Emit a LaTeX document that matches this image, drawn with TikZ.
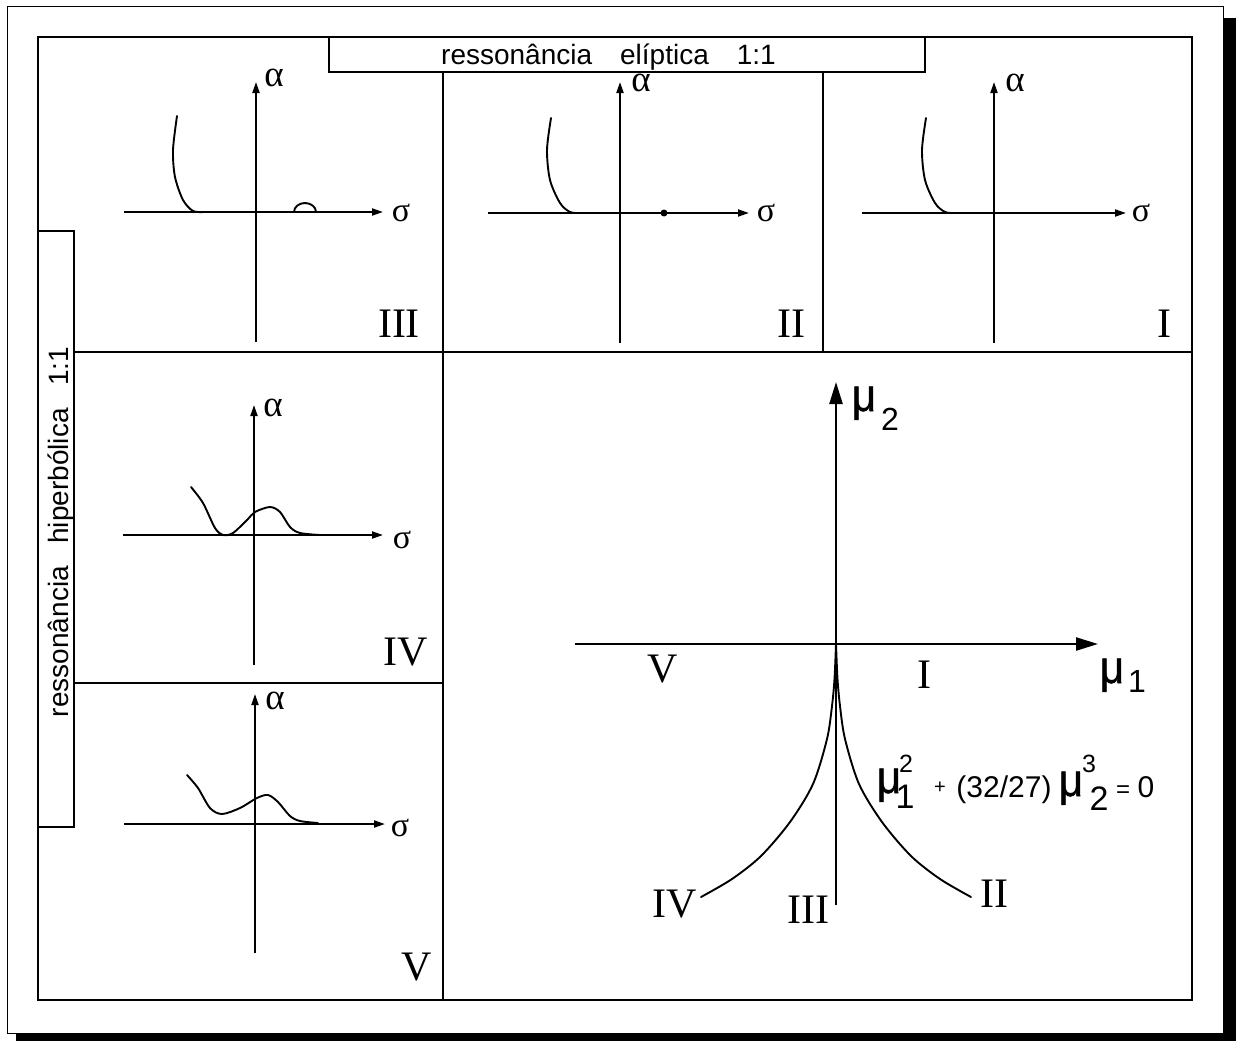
\documentclass[tikz,border=0pt]{standalone}
\usepackage{fontspec}
\setmainfont{Liberation Serif}
\newfontfamily\sansf{Liberation Sans}
\newfontfamily\mufont[FakeBold=1.2]{Liberation Sans}
\usetikzlibrary{arrows.meta}
\newcommand{\mymu}{\scalebox{1}[1.1]{\mufont\fontsize{42}{42}\selectfont μ}}
\begin{document}
\begin{tikzpicture}[x=1pt,y=-1pt,
  ax/.style={line width=2pt,-{Triangle[length=11pt,width=7pt]}},
  bigax/.style={line width=2.4pt,-{Triangle[length=22pt,width=13pt]}},
  crv/.style={line width=1.9pt,line join=round,line cap=round},
  alf/.style={font=\fontsize{37}{37}\selectfont,inner sep=0pt,anchor=base},
  sig/.style={font=\fontsize{34}{34}\selectfont,inner sep=0pt,anchor=base},
  roman/.style={font=\fontsize{42}{42}\selectfont,inner sep=0pt,anchor=base},
  hlbl/.style={font=\sansf\fontsize{28}{28}\selectfont,inner sep=0pt,anchor=base west},
  vlbl/.style={font=\sansf\fontsize{28}{28}\selectfont,inner sep=0pt,anchor=base,rotate=90},
  sub/.style={font=\sansf\fontsize{#1}{#1}\selectfont,inner sep=0pt,anchor=base},
  frm/.style={line width=2.4pt},
  dv/.style={line width=2pt}
]
\useasboundingbox (0,0) rectangle (1236,1041);
% shadow and outer frame
\fill[black] (16,18) rectangle (1236,1041);
\draw[fill=white,line width=1pt] (7,7) rectangle (1223,1033);
% inner frame
\draw[frm] (38,37) rectangle (1192,1000);
% dividers
\draw[dv] (443,72) -- (443,1000);
\draw[dv] (823,72) -- (823,352);
\draw[dv] (74,352) -- (1192,352);
\draw[dv] (74,683) -- (443,683);
% label boxes
\draw[frm,fill=white] (329,37) rectangle (925,72);
\node[hlbl] (toplbl) at (441,65) {ressonância\hspace{1em}elíptica\hspace{1em}1:1};
\draw[frm,fill=white] (38,231) rectangle (74,827);
\node[vlbl] (vlbl) at (68,532) {ressonância\hspace{0.8em}hiperbólica\hspace{0.8em}1:1};

% Panel III
\draw[ax] (256,342) -- (256,82);
\draw[ax] (124,212) -- (383,212);
\draw[crv] plot[smooth] coordinates {(177,116) (173,150) (175,177) (183,200) (193,211) (204,212)};
\draw[crv] (294,212) arc[start angle=180,end angle=360,x radius=11,y radius=9];
\node[alf] (a3) at (274,86) {α};
\node[sig] (s3) at (401,221) {σ};
\node[roman] (n3) at (399,337) {III};

% Panel II
\draw[ax] (620,343) -- (620,82);
\draw[ax] (488,213) -- (749,213);
\draw[crv] plot[smooth] coordinates {(551,118) (547,150) (550,180) (560,203) (570,212) (580,213)};
\fill (664,213) circle[radius=3.5];
\node[alf] (a2) at (641,91) {α};
\node[sig] (s2) at (766,221) {σ};
\node[roman] (n2) at (791,337) {II};

% Panel I
\draw[ax] (994,343) -- (994,82);
\draw[ax] (862,213) -- (1126,213);
\draw[crv] plot[smooth] coordinates {(926,118) (922,150) (925,180) (935,203) (945,212) (955,213)};
\node[alf] (a1) at (1015,92) {α};
\node[sig] (s1) at (1141,221) {σ};
\node[roman] (n1) at (1164,337) {I};

% Panel IV
\draw[ax] (254,665) -- (254,405);
\draw[ax] (123,535) -- (383,535);
\draw[crv] plot[smooth] coordinates {(191,487) (203,503) (215,528) (223,535) (233,533) (247,520) (255,512) (270,507) (280,512) (290,527) (300,533) (320,535)};
\node[alf] (a4) at (273,416) {α};
\node[sig] (s4) at (402,548) {σ};
\node[roman] (n4) at (406,665) {IV};

% Panel V
\draw[ax] (255,953) -- (255,694);
\draw[ax] (124,824) -- (385,824);
\draw[crv] plot[smooth] coordinates {(187,775) (198,788) (210,808) (222,814) (240,808) (257,798) (268,795) (278,802) (290,816) (300,821) (318,823)};
\node[alf] (a5) at (275,709) {α};
\node[sig] (s5) at (400,836) {σ};
\node[roman] (n5) at (417,980) {V};

% Main panel
\draw[bigax] (836,905) -- (836,382);
\draw[bigax] (575,644) -- (1098,644);
\draw[crv] plot[smooth] coordinates {(836,644) (834.5,679) (832,706) (827,739) (813,784) (790,822) (761,856) (732,879) (701,897)};
\draw[crv] plot[smooth] coordinates {(836,644) (837.5,679) (840,706) (845,739) (859,784) (882,822) (911,856) (940,879) (971,897)};
\node[roman] (mV) at (663,682) {V};
\node[roman] (mI) at (924,688) {I};
\node[roman] (mIV) at (675,917) {IV};
\node[roman] (mIII) at (808,923) {III};
\node[roman] (mII) at (994,907) {II};
% axis labels
\node[inner sep=0pt,anchor=base] (mu2) at (864,411) {\mymu};
\node[sub=32] (mu2i) at (890,430) {2};
\node[inner sep=0pt,anchor=base] (mu1) at (1112,683) {\mymu};
\node[sub=32] (mu1i) at (1137,692) {1};
% equation
\node[inner sep=0pt,anchor=base] (e1) at (889,793) {\mymu};
\node[sub=25] (e1sup) at (906,772) {2};
\node[sub=34] (e1sub) at (905,808) {1};
\node[font=\sansf\fontsize{20}{20}\selectfont,inner sep=0pt] (eplus) at (940,788) {+};
\node[sub=30] (efrac) at (1004,797) {(32/27)};
\node[inner sep=0pt,anchor=base] (e2) at (1071,796) {\mymu};
\node[sub=25] (e2sup) at (1089,772) {3};
\node[sub=34] (e2sub) at (1099,810) {2};
\node[font=\sansf\fontsize{24}{24}\selectfont,inner sep=0pt] (eeq) at (1123,792) {=};
\node[sub=30] (ezero) at (1146,797) {0};
\end{tikzpicture}
\end{document}
